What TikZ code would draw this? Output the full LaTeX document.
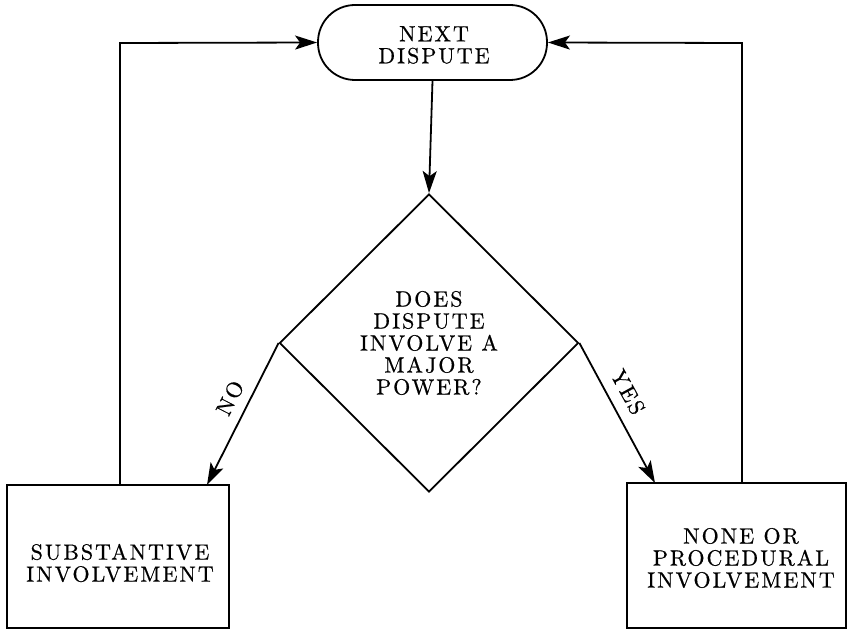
\documentclass[tikz,border=0pt]{standalone}
\usepackage{fontspec}
\newfontfamily\lblfont{lmroman10-regular.otf}[LetterSpace=9,FakeBold=0.6]
\usetikzlibrary{arrows.meta,shapes.geometric}
\tikzset{
  lbl/.style={font=\lblfont\fontsize{22}{22}\selectfont, align=center, inner sep=0pt},
  ln/.style={line width=1.8pt},
  arr/.style={ln, -{Stealth[length=22pt,width=14pt,inset=5pt]}},
  boxst/.style={draw, ln, rectangle, inner sep=0pt},
}
\begin{document}
\begin{tikzpicture}[x=1pt,y=-1pt]
\useasboundingbox (0,0) rectangle (847,631);
\node[draw, ln, rounded corners=37pt, minimum width=229pt, minimum height=75pt, inner sep=0pt] (top) at (432.5,42.5) {};
\node[lbl] (toptxt) at (434,45) {NEXT\\DISPUTE};
\node[draw, ln, diamond, minimum width=299pt, minimum height=298pt, inner sep=0pt, lbl] (d) at (429,343) {DOES\\DISPUTE\\INVOLVE A\\MAJOR\\POWER?};
\node[boxst, minimum width=222pt, minimum height=143pt] (lb) at (118,556.5) {};
\node[lbl] (lbt) at (120,563) {SUBSTANTIVE\\INVOLVEMENT};
\node[boxst, minimum width=219pt, minimum height=145pt] (rb) at (736.5,555.5) {};
\node[lbl] (rbt) at (741,558) {NONE OR\\PROCEDURAL\\INVOLVEMENT};
\coordinate (lbtop) at (207,485);
\coordinate (rbtop) at (655,483);
\draw[arr] (top.south) -- (d.north);
\draw[arr] (d.west) -- (lbtop);
\draw[arr] (d.east) -- (rbtop);
\draw[arr] (lb.north -| 120,0) -- (120,43) -- (top.west);
\draw[arr] (rb.north -| 742,0) -- (742,43) -- (top.east);
\node[lbl, rotate=63] (no) at (230,398) {NO};
\node[lbl, rotate=-61.4] (yes) at (628,392) {YES};
\end{tikzpicture}
\end{document}
